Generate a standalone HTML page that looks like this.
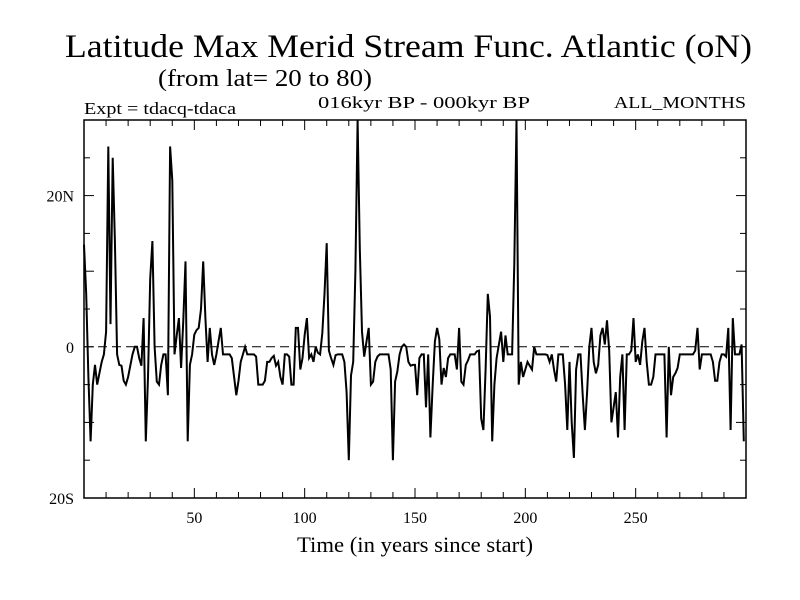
<!DOCTYPE html>
<html><head><meta charset="utf-8"><style>
html,body{margin:0;padding:0;background:#fff;width:800px;height:600px;overflow:hidden}
text{font-family:"Liberation Serif",serif;fill:#000}
</style></head><body>
<svg id="chart" width="800" height="600" viewBox="0 0 800 600" xmlns="http://www.w3.org/2000/svg">
<rect width="800" height="600" fill="#fff"/>
<text x="65" y="57" font-size="33" textLength="687" lengthAdjust="spacingAndGlyphs">Latitude Max Merid Stream Func. Atlantic (oN)</text>
<text x="158" y="86" font-size="24" textLength="214" lengthAdjust="spacingAndGlyphs">(from lat= 20 to 80)</text>
<text x="84" y="114" font-size="17" textLength="152" lengthAdjust="spacingAndGlyphs">Expt = tdacq-tdaca</text>
<text x="318" y="108" font-size="17" textLength="212" lengthAdjust="spacingAndGlyphs">016kyr BP - 000kyr BP</text>
<text x="614" y="108" font-size="17" textLength="132" lengthAdjust="spacingAndGlyphs">ALL_MONTHS</text>
<text x="297" y="552" font-size="22" textLength="236" lengthAdjust="spacingAndGlyphs">Time (in years since start)</text>
<g id="axes"></g>
<g id="series"></g>
<rect x="84" y="120" width="662" height="378" fill="none" stroke="#000" stroke-width="1.5"/>
</svg>
<script>
const yearStart = 0;
const seriesValues = [
13.5,7,-4,-12.5,-5,-2.4,-5,-3.5,-2,-1,
2,26.5,3,25,14,-1,-2.4,-2.5,-4.5,-5,
-4,-2.5,-1,0,0,-1.5,-2.5,3.8,-12.5,-4,
9,14,0,-4.6,-5,-2.4,-1,-1,-6.4,26.5,
22,-1,1.5,3.8,-2.8,3.5,11.3,-12.5,-2.4,-1,
1.6,2.2,2.5,5,11.3,3.8,-2,2.5,-1,-2.4,
-1,0.8,2.5,-1,-1,-1,-1,-1.5,-4,-6.4,
-4.5,-2,-1,0,-1,-1,-1,-1,-1.3,-5,
-5,-5,-4.5,-2,-2,-1.5,-1.2,-2.5,-2,-4,
-5,-1,-1,-1.3,-5,-5,2.5,2.5,-3,-1.5,
1.6,3.8,-1.5,-1,-2,0,-0.8,-1,1.8,7,
13.7,-0.5,-1.5,-2.4,-1.1,-1,-1,-1,-2,-6,
-15,-3.8,-2,10,30,13,2,-1.3,0.7,2.5,
-5,-4.6,-2,-1.3,-1,-1,-1,-1,-1,-3,
-15,-4.6,-3.3,-1,0,0.3,0,-2,-2.5,-2.4,
-2.4,-6.4,-1.5,-1,-1,-8,-1,-12,-5,0.7,
2.5,1,-5,-2.8,-4,-1.5,-1,-1,-1,-3,
2.5,-4.6,-5,-2.4,-1.8,-1,-1,-1,-0.6,-0.5,
-9.5,-11,-3,7,4,-12.5,-5,-1.5,0.3,2,
-2,1.5,-1,-1,-1,11,30,-5,-2,-4,
-3,-2,-2.5,-3,0,-1,-1,-1,-1,-1,
-1.1,-2,-1,-3,-4.6,-1,-1,-1,-5,-11,
-2,-10,-14.7,-3,-1,-1,-6.4,-11,-6,0,
2.5,-2,-3.5,-2.4,1.5,2.5,0.3,3.5,-0.5,-10,
-8,-6,-12,-4,-1,-11,-1,-1,-0.5,3.8,
-2,-1,-2.4,0.7,2.5,-2,-5,-5,-4,-1,
-1,-1,-1,-1,-12,0,-6.4,-4,-3.5,-2.8,
-1,-1,-1,-1,-1,-1,-1,-0.5,2.5,-3,
-1,-1,-1,-1,-1,-2,-4.5,-4.5,-2,-1,
-1,-1.3,2.5,-11,3.8,-1,-1,-1,0.3,-12.5
];
const xTickValues = [50,100,150,200,250];
const xTickLabels = ["50","100","150","200","250"];
const yTickValues = [20,0,-20];
const yTickLabels = ["20N","0","20S"];

const X0=84,X1=746,Y0=120,Y1=498,XMIN=0,XMAX=300,YMIN=-20,YMAX=30;
function xs(v){return X0+(v-XMIN)/(XMAX-XMIN)*(X1-X0);}
function ys(v){return Y1-(v-YMIN)/(YMAX-YMIN)*(Y1-Y0);}
const NS='http://www.w3.org/2000/svg';
const axes=document.getElementById('axes');
const ser=document.getElementById('series');
function mk(tag,attrs,parent){const e=document.createElementNS(NS,tag);for(const k in attrs)e.setAttribute(k,attrs[k]);parent.appendChild(e);return e;}

for(let t=10;t<300;t+=10){
  const L=(t%50===0)?10:6;
  const a=mk('line',{x1:xs(t),x2:xs(t),y1:Y1,y2:Y1-L,stroke:'#000','stroke-width':1},axes);
  
  
  const b=mk('line',{x1:xs(t),x2:xs(t),y1:Y0,y2:Y0+L,stroke:'#000','stroke-width':1},axes);
  
  
}
for(let v=-15;v<30;v+=5){
  const L=(v%10===0)?10:6;
  const a=mk('line',{x1:X0,x2:X0+L,y1:ys(v),y2:ys(v),stroke:'#000','stroke-width':1},axes);
  
  
  const b=mk('line',{x1:X1,x2:X1-L,y1:ys(v),y2:ys(v),stroke:'#000','stroke-width':1},axes);
  
  
}
xTickValues.forEach((v,i)=>{
  const t=mk('text',{x:xs(v),y:523,'font-size':16,'text-anchor':'middle'},axes);
  t.textContent=xTickLabels[i];
  
  
});
yTickValues.forEach((v,i)=>{
  const t=mk('text',{x:74,y:ys(v)+6,'font-size':16,'text-anchor':'end'},axes);
  t.textContent=yTickLabels[i];
  
  
});
const z=mk('line',{x1:X0,x2:X1,y1:ys(0),y2:ys(0),stroke:'#000','stroke-width':1,'stroke-dasharray':'9,5'},axes);



const pts=seriesValues.map((v,i)=>{const c=Math.max(YMIN,Math.min(YMAX,v));return xs(yearStart+i).toFixed(1)+','+ys(c).toFixed(1);});
const pl=mk('polyline',{points:pts.join(' '),fill:'none',stroke:'#000','stroke-width':2,'stroke-linejoin':'miter'},ser);


</script>
</body></html>
